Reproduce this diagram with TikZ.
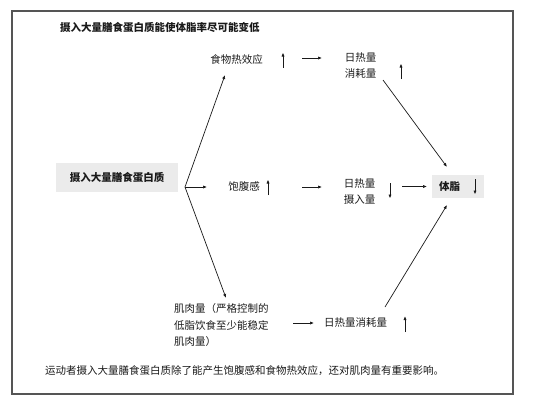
\documentclass[tikz,border=0pt]{standalone}
\usepackage{fontspec}
\setmainfont{Noto Sans CJK SC}
\usetikzlibrary{arrows.meta}
\definecolor{boxgray}{HTML}{EBEBEB}
\definecolor{framegray}{HTML}{555555}
\definecolor{ink}{HTML}{1A1A1A}
\tikzset{
  txt/.style={font=\fontsize{10.5}{16.5}\selectfont, text=ink, inner sep=0pt, align=center},
  boldtxt/.style={txt, font=\fontsize{10.5}{16.5}\selectfont\bfseries},
  graybox/.style={fill=boxgray, draw=none, inner sep=0pt},
  arr/.style={draw=ink, line width=0.7pt, -{Latex[length=4pt,width=3.2pt]}},
  updn/.style={draw=ink, line width=1pt, -{Latex[length=4pt,width=3.2pt]}},
}
\begin{document}
\begin{tikzpicture}[x=1pt,y=-1pt]
\useasboundingbox (0,0) rectangle (540,405);
\fill[white] (0,0) rectangle (540,405);
% frame
\draw[framegray, line width=1.3pt] (12,11) rectangle (513,394);
% title
\node[boldtxt, anchor=west] (title) at (60,27) {摄入大量膳食蛋白质能使体脂率尽可能变低};
% source box
\node[graybox, minimum width=122pt, minimum height=29pt] (srcbox) at (117,177.5) {};
\node[boldtxt] (src) at (117,177.5) {摄入大量膳食蛋白质};
\coordinate (fan) at (185,187);
% top row
\node[txt] (n1) at (236.5,60) {食物热效应};
\coordinate (a1b) at (283,67.5); \coordinate (a1t) at (283,52.5);
\draw[updn] (a1b) -- (a1t);
\coordinate (h1s) at (302,58); \coordinate (h1e) at (322,58);
\draw[arr] (h1s) -- (h1e);
\node[txt] (n2) at (360.5,65.5) {日热量\\消耗量};
\coordinate (a2b) at (401,79); \coordinate (a2t) at (401,63.5);
\draw[updn] (a2b) -- (a2t);
% middle row
\node[txt] (n3) at (244,187) {饱腹感};
\coordinate (a3b) at (268,195); \coordinate (a3t) at (268,179.5);
\draw[updn] (a3b) -- (a3t);
\coordinate (h2s) at (302,187); \coordinate (h2e) at (322,187);
\draw[arr] (h2s) -- (h2e);
\node[txt] (n4) at (359.5,191.5) {日热量\\摄入量};
\coordinate (a4t) at (390,183); \coordinate (a4b) at (390,198.5);
\draw[updn] (a4t) -- (a4b);
\coordinate (h3s) at (402,186.5); \coordinate (h3e) at (427,186.5);
\draw[arr] (h3s) -- (h3e);
\node[graybox, minimum width=52pt, minimum height=23pt] (fat) at (458,186.5) {};
\node[boldtxt] (fattxt) at (449.5,186.5) {体脂};
\coordinate (a5t) at (475,179); \coordinate (a5b) at (475,194.5);
\draw[updn] (a5t) -- (a5b);
% bottom row
\node[txt, align=left, anchor=west] (n5) at (174,325.5) {肌肉量（严格控制的\\低脂饮食至少能稳定\\肌肉量）};
\coordinate (h4s) at (293,323); \coordinate (h4e) at (314,323);
\draw[arr] (h4s) -- (h4e);
\node[txt] (n6) at (355.5,323) {日热量消耗量};
\coordinate (a6b) at (405,332); \coordinate (a6t) at (405,316);
\draw[updn] (a6b) -- (a6t);
% fan lines
\coordinate (t1) at (225,75);
\coordinate (t3) at (207,187);
\coordinate (t5) at (226,298);
\draw[arr] (fan) -- (t1);
\draw[arr] (fan) -- (t3);
\draw[arr] (fan) -- (t5);
% lines into fat box
\coordinate (r1s) at (383,80); \coordinate (r1e) at (447,167);
\coordinate (r2s) at (385,307); \coordinate (r2e) at (447,205);
\draw[arr] (r1s) -- (r1e);
\draw[arr] (r2s) -- (r2e);
% caption
\node[txt, anchor=west] (cap) at (45,371) {运动者摄入大量膳食蛋白质除了能产生饱腹感和食物热效应，还对肌肉量有重要影响。};
\end{tikzpicture}
\end{document}
